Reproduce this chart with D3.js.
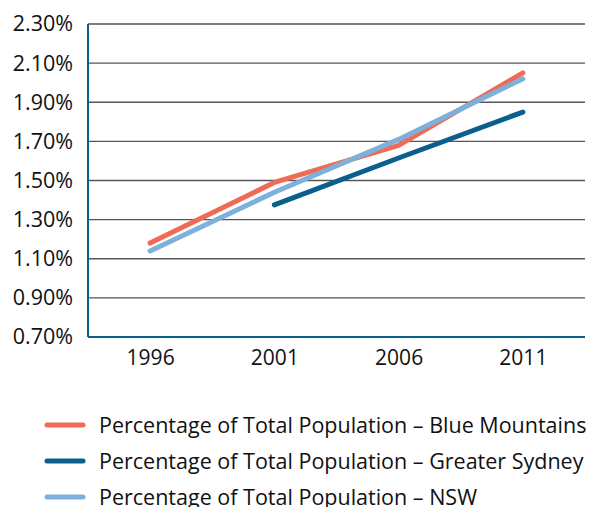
<!DOCTYPE html>
<html>
<head>
<meta charset="utf-8">
<script src="https://cdn.jsdelivr.net/npm/d3@7"></script>
<style>
  body { margin: 0; background: #fff; }
  svg text { font-family: "Open Sans", "Noto Sans", sans-serif; fill: #111; }
</style>
</head>
<body>
<div id="chart"></div>
<script>
'use strict';

var years = ['1996', '2001', '2006', '2011'];
var blueMountains = [1.18, 1.49, 1.68, 2.05];
var greaterSydney = [null, 1.375, 1.615, 1.85];
var nsw = [1.14, 1.44, 1.71, 2.02];
var yTicks = [0.7, 0.9, 1.1, 1.3, 1.5, 1.7, 1.9, 2.1, 2.3];

var series = [
  { name: 'Percentage of Total Population \u2013 Blue Mountains', values: blueMountains, color: '#ee6b55' },
  { name: 'Percentage of Total Population \u2013 Greater Sydney', values: greaterSydney, color: '#0b5f8d' },
  { name: 'Percentage of Total Population \u2013 NSW', values: nsw, color: '#7db0da' }
];

var w = 591, h = 507;
var m = { top: 24, right: 6, bottom: 170, left: 88 };

var svg = d3.select('#chart')
  .append('svg')
  .attr('width', w)
  .attr('height', h);

var x = d3.scalePoint()
  .domain(years)
  .range([m.left, w - m.right])
  .padding(0.5);

var y = d3.scaleLinear()
  .domain([0.7, 2.3])
  .range([h - m.bottom, m.top]);

// gridlines
svg.append('g')
  .selectAll('line')
  .data(yTicks.slice(1))
  .enter()
  .append('line')
  .attr('x1', m.left)
  .attr('x2', w - m.right)
  .attr('y1', function (d) { return y(d); })
  .attr('y2', function (d) { return y(d); })
  .attr('stroke', '#555')
  .attr('stroke-width', 1.3);

// y axis labels
var yAxis = d3.axisLeft(y)
  .tickValues(yTicks)
  .tickSize(0)
  .tickPadding(15)
  .tickFormat(function (d) { return d.toFixed(2) + '%'; });

svg.append('g')
  .attr('transform', 'translate(' + m.left + ',0)')
  .call(yAxis)
  .call(function (g) { g.select('.domain').remove(); })
  .selectAll('text')
  .attr('font-size', 21.5)
  .attr('font-family', '"Open Sans", sans-serif');

// x axis labels
var xAxis = d3.axisBottom(x).tickSize(0).tickPadding(13);
svg.append('g')
  .attr('transform', 'translate(0,' + y(0.7) + ')')
  .call(xAxis)
  .call(function (g) { g.select('.domain').remove(); })
  .selectAll('text')
  .attr('font-size', 21)
  .attr('font-family', '"Open Sans", sans-serif');

// axis lines
svg.append('line')
  .attr('x1', m.left).attr('x2', m.left)
  .attr('y1', y(2.3)).attr('y2', y(0.7))
  .attr('stroke', '#0b5f8d').attr('stroke-width', 2);
svg.append('line')
  .attr('x1', m.left).attr('x2', w - m.right)
  .attr('y1', y(0.7)).attr('y2', y(0.7))
  .attr('stroke', '#0b5f8d').attr('stroke-width', 2);

var line = d3.line()
  .defined(function (d) { return d != null; })
  .x(function (d, i) { return x(years[i]); })
  .y(function (d) { return y(d); });

svg.append('g')
  .selectAll('path')
  .data(series)
  .enter()
  .append('path')
  .attr('d', function (d) { return line(d.values); })
  .attr('fill', 'none')
  .attr('stroke', function (d) { return d.color; })
  .attr('stroke-width', 5)
  .attr('stroke-linecap', 'round')
  .attr('stroke-linejoin', 'round');

// legend
var legend = svg.append('g')
  .selectAll('g')
  .data(series)
  .enter()
  .append('g')
  .attr('transform', function (d, i) { return 'translate(0,' + (425 + i * 36) + ')'; });

legend.append('line')
  .attr('x1', 47).attr('x2', 83)
  .attr('stroke', function (d) { return d.color; })
  .attr('stroke-width', 5)
  .attr('stroke-linecap', 'round');

legend.append('text')
  .attr('x', 99)
  .attr('dy', '0.35em')
  .attr('font-size', 21.5)
  .text(function (d) { return d.name; });
</script>
</body>
</html>
